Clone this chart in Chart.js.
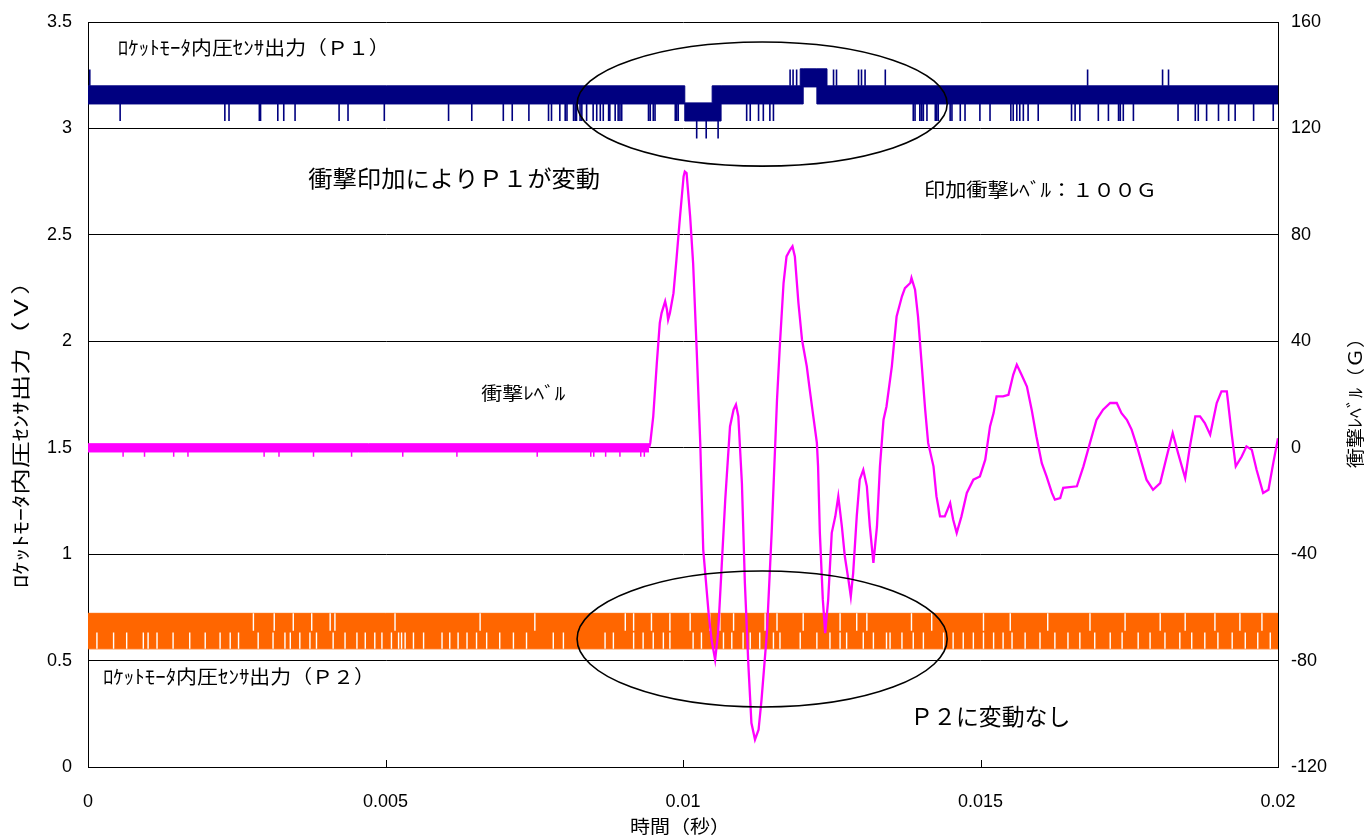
<!DOCTYPE html>
<html><head><meta charset="utf-8">
<script src="https://cdn.jsdelivr.net/npm/chart.js@4.4.1/dist/chart.umd.min.js"></script>
<style>html,body{margin:0;padding:0;background:#fff;}#wrap{width:1369px;height:839px;}</style>
</head><body><div id="wrap"><canvas id="c" width="1369" height="839"></canvas></div>
<script>
// ---------- axes ----------
const xTicks = [0, 0.005, 0.01, 0.015, 0.02];
const xTickLabels = ['0', '0.005', '0.01', '0.015', '0.02'];
const voltTickLabels = ['0', '0.5', '1', '1.5', '2', '2.5', '3', '3.5'];
const gTickLabels = ['-120', '-80', '-40', '0', '40', '80', '120', '160'];

// ---------- P1 (V) : dense band envelope (value holds from each time to the next) ----------
const p1BandTime  = [0, 0.01003, 0.01049, 0.01064, 0.01197, 0.01202, 0.01225, 0.01242, 0.02];
const p1BandUpper = [3.20, 3.12, 3.20, 3.20, 3.28, 3.28, 3.28, 3.20, 3.20];
const p1BandLower = [3.115, 3.035, 3.035, 3.115, 3.115, 3.195, 3.115, 3.115, 3.115];
// P1 isolated excursions
const p1DownSpikes = [0.00054, 0.00230, 0.00237, 0.00288, 0.00290, 0.00319, 0.00329, 0.00348, 0.00422, 0.00437,
  0.00498, 0.00606, 0.00645, 0.00698, 0.00713, 0.00741, 0.00774, 0.00779, 0.00793, 0.00802, 0.00805, 0.00816,
  0.00819, 0.00821, 0.00827, 0.00830, 0.00838, 0.00849, 0.00855, 0.00861, 0.00866, 0.00875, 0.00877, 0.00886,
  0.00891, 0.00894, 0.00897, 0.00942, 0.00945, 0.00950, 0.00953, 0.00987, 0.00989, 0.00992, 0.01107, 0.01113,
  0.01127, 0.01135, 0.01146, 0.01152, 0.01387, 0.01390, 0.01398, 0.01401, 0.01404, 0.01410, 0.01424, 0.01426,
  0.01429, 0.01449, 0.01452, 0.01466, 0.01474, 0.01499, 0.01516, 0.01551, 0.01555, 0.01561, 0.01566, 0.01572,
  0.01580, 0.01597, 0.01653, 0.01659, 0.01667, 0.01698, 0.01715, 0.01732, 0.01735, 0.01740, 0.01757, 0.01832,
  0.01861, 0.01866, 0.01880, 0.01900, 0.01917, 0.01928, 0.01959, 0.01992];
const p1UpSpikes = [0.00003, 0.01180, 0.01185, 0.01191, 0.01253, 0.01258, 0.01295, 0.01300, 0.01306, 0.01340,
  0.01680, 0.01806, 0.01816];
const p1DeepSpikes = [0.01023, 0.01039, 0.01059];
const p1Level = {up: 3.277, high: 3.20, low: 3.115, dip: 3.035, deep: 2.953};

// ---------- P2 (V) : dense band ----------
const p2Band = {upper: 0.722, mid: 0.640, lower: 0.555};
const p2GapsUpper = [0.00278, 0.00313, 0.00345, 0.00376, 0.00407, 0.00415, 0.00516, 0.00659, 0.00751, 0.00903,
  0.00917, 0.00947, 0.00978, 0.01012, 0.01045, 0.01062, 0.01085, 0.01138, 0.01158, 0.01202, 0.01264, 0.01292,
  0.01309, 0.01384, 0.01418, 0.01505, 0.01550, 0.01613, 0.01684, 0.01743, 0.01802, 0.01844, 0.01894, 0.01936,
  0.01973];
const p2GapsLower = [0.00015, 0.00043, 0.00065, 0.00093, 0.00101, 0.00116, 0.00143, 0.00171, 0.00197, 0.00222,
  0.00239, 0.00253, 0.00286, 0.00311, 0.00331, 0.00340, 0.00356, 0.00373, 0.00384, 0.00412, 0.00432, 0.00452,
  0.00466, 0.00482, 0.00494, 0.00510, 0.00522, 0.00527, 0.00533, 0.00547, 0.00564, 0.00595, 0.00608, 0.00622,
  0.00637, 0.00653, 0.00670, 0.00692, 0.00715, 0.00737, 0.00782, 0.00799, 0.00869, 0.00883, 0.00917, 0.00933,
  0.00950, 0.00967, 0.00978, 0.01017, 0.01031, 0.01068, 0.01082, 0.01101, 0.01113, 0.01129, 0.01152, 0.01163,
  0.01197, 0.01225, 0.01247, 0.01264, 0.01275, 0.01303, 0.01320, 0.01342, 0.01348, 0.01368, 0.01387, 0.01404,
  0.01438, 0.01454, 0.01471, 0.01488, 0.01505, 0.01522, 0.01538, 0.01553, 0.01575, 0.01600, 0.01625, 0.01647,
  0.01667, 0.01692, 0.01718, 0.01738, 0.01765, 0.01785, 0.01810, 0.01835, 0.01855, 0.01877, 0.01899, 0.01923,
  0.01945, 0.01966, 0.01987];

// ---------- Shock level (G) ----------
const shockBaseTime = [0, 0.00943];
const shockBaseUpper = [1.5, 1.5];
const shockBaseLower = [-1.6, -1.6];
const shockBaseDips = [0.00059, 0.00095, 0.00144, 0.00168, 0.00296, 0.00321, 0.00379, 0.00443, 0.00529, 0.00620,
  0.00755, 0.00845, 0.00850, 0.00870, 0.00894, 0.00929, 0.00935];
const shockDipLevel = -3.4;
const shockTime = [0.00943, 0.00945, 0.00950, 0.00956, 0.00961, 0.00964, 0.00970, 0.00973, 0.00975, 0.00978,
  0.00981, 0.00984, 0.00989, 0.00995, 0.01001, 0.01003, 0.01006, 0.01012, 0.01017, 0.01023, 0.01029, 0.01034,
  0.01043, 0.01048, 0.01054, 0.01059, 0.01065, 0.01071, 0.01079, 0.01085, 0.01089, 0.01093, 0.01099, 0.01104,
  0.01110, 0.01115, 0.01121, 0.01127, 0.01132, 0.01141, 0.01149, 0.01158, 0.01163, 0.01169, 0.01174, 0.01180,
  0.01184, 0.01188, 0.01194, 0.01200, 0.01203, 0.01208, 0.01213, 0.01219, 0.01225, 0.01227, 0.01230, 0.01235,
  0.01239, 0.01244, 0.01250, 0.01256, 0.01261, 0.01267, 0.01272, 0.01278, 0.01282, 0.01286, 0.01292, 0.01297,
  0.01303, 0.01309, 0.01314, 0.01320, 0.01326, 0.01331, 0.01337, 0.01342, 0.01351, 0.01359, 0.01368, 0.01373,
  0.01382, 0.01384, 0.01390, 0.01395, 0.01401, 0.01407, 0.01412, 0.01421, 0.01426, 0.01432, 0.01440, 0.01449,
  0.01454, 0.01460, 0.01468, 0.01477, 0.01488, 0.01499, 0.01508, 0.01516, 0.01522, 0.01527, 0.01538, 0.01547,
  0.01555, 0.01561, 0.01569, 0.01578, 0.01586, 0.01594, 0.01603, 0.01611, 0.01620, 0.01625, 0.01634, 0.01639,
  0.01662, 0.01673, 0.01684, 0.01695, 0.01706, 0.01718, 0.01729, 0.01737, 0.01746, 0.01754, 0.01763, 0.01771,
  0.01779, 0.01790, 0.01802, 0.01813, 0.01823, 0.01832, 0.01844, 0.01852, 0.01861, 0.01869, 0.01877, 0.01886,
  0.01897, 0.01905, 0.01914, 0.01922, 0.01929, 0.01939, 0.01947, 0.01956, 0.01964, 0.01975, 0.01984, 0.01992,
  0.02000];
const shockG = [0, 1.8, 11.8, 31.8, 46.9, 50.6, 55, 51.9, 48.1, 50.6,
  54.4, 58.1, 70.7, 86.9, 102, 103.8, 103.2, 86.9, 69.4, 36.8, 1.8, -38.3,
  -62.1, -72.2, -79.7, -69.7, -44.6, -19.5, 8, 14.3, 16.2, 11.8, -13.3, -50.9,
  -82.2, -103.5, -109.7, -106, -94.7, -69.7, -32, 18, 39.3, 61.9, 71.9, 74.4,
  75.7, 71.9, 54.4, 40.6, 36.8, 30.6, 21.8, 11.8, 1.8, -7, -32, -57.1,
  -69.7, -57.1, -32, -25.8, -18.3, -29.6, -40.9, -49.6, -55.9, -47.1, -25.8, -12,
  -8.3, -14.5, -29.6, -43.3, -29.6, -7, 10.5, 15.5, 30.6, 49.3, 56.9, 60,
  61.9, 63.8, 59.4, 49.3, 31.8, 14.3, 1.8, -7, -18.3, -25.8, -25.8, -20.8,
  -27, -32, -25.8, -17, -12, -10.8, -4.5, 8, 13, 19.3, 19.3, 19.9,
  27.4, 31.2, 27.4, 23, 14.3, 4.2, -5.8, -10.8, -17, -19.5, -18.9, -15.1,
  -14.5, -7, 1.8, 10.5, 14.3, 16.8, 16.8, 13, 10.5, 6.8, 0.5, -5.8,
  -12, -15.8, -13.3, -3.3, 5.5, -2, -11.4, 0.5, 11.8, 11.8, 9.3, 4.9,
  16.8, 21.2, 21.2, 5.5, -7, -3.3, 0.5, -0.8, -8.3, -17, -15.8, -5.8,
  3.6];

// ---------- annotations ----------
const ellipses = [
  {tMin: 0.00822, tMax: 0.01444, vMin: 2.823, vMax: 3.406},
  {tMin: 0.00822, tMax: 0.01444, vMin: 0.282, vMax: 0.921}
];
const notes = [
  {text: 'ﾛｹｯﾄﾓｰﾀ内圧ｾﾝｻ出力（Ｐ１）', t: 0.00050, v: 3.378, size: 19, width: 272},
  {text: '衝撃印加によりＰ１が変動', t: 0.00370, v: 2.767, size: 23, width: 292},
  {text: '印加衝撃ﾚﾍﾞﾙ：１００Ｇ', t: 0.01405, v: 2.711, size: 19, width: 233},
  {text: '衝撃ﾚﾍﾞﾙ', t: 0.00661, v: 1.757, size: 18, width: 84},
  {text: 'ﾛｹｯﾄﾓｰﾀ内圧ｾﾝｻ出力（Ｐ２）', t: 0.00025, v: 0.423, size: 19, width: 272},
  {text: 'Ｐ２に変動なし', t: 0.01382, v: 0.240, size: 23, width: 160}
];
const titles = {
  x: '時間（秒）',
  yLeft: 'ﾛｹｯﾄﾓｰﾀ内圧ｾﾝｻ出力（Ｖ）',
  yRight: '衝撃ﾚﾍﾞﾙ（Ｇ）'
};

// ---------- build data ----------
const pts = (ts, vs) => ts.map((t, i) => ({x: t, y: vs[i]}));
const spikes = (ts, base, tip) => ts.flatMap(t => [{x: t, y: base}, {x: t, y: tip}, {x: t, y: null}]);
const NAVY = '#000080', ORANGE = '#FF6600', MAGENTA = '#FF00FF';
const JP = '"Noto Sans CJK JP", "Noto Sans", sans-serif';

const datasets = [
  {data: pts(p1BandTime, p1BandUpper), yAxisID: 'y', stepped: 'before', borderColor: NAVY, borderWidth: 1, fill: false, order: 9},
  {data: pts(p1BandTime, p1BandLower), yAxisID: 'y', stepped: 'before', borderColor: NAVY, borderWidth: 1, fill: 0, backgroundColor: NAVY, order: 8},
  {data: spikes(p1DownSpikes, p1Level.low, p1Level.dip).concat(spikes(p1UpSpikes, p1Level.high, p1Level.up), spikes(p1DeepSpikes, p1Level.dip, p1Level.deep)),
   yAxisID: 'y', borderColor: NAVY, borderWidth: 1.6, spanGaps: false, order: 7},
  {data: pts([0, 0.02], [p2Band.upper, p2Band.upper]), yAxisID: 'y', borderColor: ORANGE, borderWidth: 1, fill: false, order: 6},
  {data: pts([0, 0.02], [p2Band.lower, p2Band.lower]), yAxisID: 'y', borderColor: ORANGE, borderWidth: 1, fill: 3, backgroundColor: ORANGE, order: 5},
  {data: spikes(p2GapsUpper, p2Band.upper, p2Band.mid).concat(spikes(p2GapsLower, p2Band.lower, p2Band.mid - 0.008)),
   yAxisID: 'y', borderColor: '#ffffff', borderWidth: 1.4, spanGaps: false, order: 4},
  {data: pts(shockBaseTime, shockBaseUpper), yAxisID: 'y2', borderColor: MAGENTA, borderWidth: 1, fill: false, order: 3},
  {data: pts(shockBaseTime, shockBaseLower), yAxisID: 'y2', borderColor: MAGENTA, borderWidth: 1, fill: 6, backgroundColor: MAGENTA, order: 2},
  {data: spikes(shockBaseDips, shockBaseLower[0], shockDipLevel), yAxisID: 'y2', borderColor: MAGENTA, borderWidth: 1.5, spanGaps: false, order: 1},
  {data: pts(shockTime, shockG), yAxisID: 'y2', borderColor: MAGENTA, borderWidth: 2.3, fill: false, order: 0}
];

function fitText(ctx, text, x, y, size, width, rot, align) {
  ctx.save();
  ctx.translate(x, y);
  if (rot) ctx.rotate(rot);
  ctx.font = size + 'px ' + JP;
  const w = ctx.measureText(text).width;
  ctx.scale(width / w, 1);
  ctx.textBaseline = 'middle';
  ctx.textAlign = align || 'left';
  ctx.fillStyle = '#000';
  ctx.fillText(text, 0, 0);
  ctx.restore();
}

const decor = {
  id: 'decor',
  afterDatasetsDraw(chart) {
    const {ctx, chartArea: a, scales: {x, y}} = chart;
    ctx.save();
    ctx.strokeStyle = '#000'; ctx.lineWidth = 1;
    xTicks.forEach(t => {
      const px = Math.round(x.getPixelForValue(t)) + 0.5;
      ctx.beginPath(); ctx.moveTo(px, a.bottom); ctx.lineTo(px, a.bottom - 7); ctx.stroke();
    });
    ctx.lineWidth = 1.6;
    ellipses.forEach(e => {
      const x0 = x.getPixelForValue(e.tMin), x1 = x.getPixelForValue(e.tMax);
      const y0 = y.getPixelForValue(e.vMax), y1 = y.getPixelForValue(e.vMin);
      ctx.beginPath();
      ctx.ellipse((x0 + x1) / 2, (y0 + y1) / 2, (x1 - x0) / 2, (y1 - y0) / 2, 0, 0, Math.PI * 2);
      ctx.stroke();
    });
    ctx.restore();
    notes.forEach(n => fitText(ctx, n.text, x.getPixelForValue(n.t), y.getPixelForValue(n.v), n.size, n.width, 0, 'left'));
  },
  afterDraw(chart) {
    const {ctx, chartArea: a} = chart;
    fitText(ctx, titles.x, (a.left + a.right) / 2 - 3, 826, 18, 100, 0, 'center');
    fitText(ctx, titles.yLeft, 21, 428, 19, 320, -Math.PI / 2, 'center');
    fitText(ctx, titles.yRight, 1355, 398, 18, 140, -Math.PI / 2, 'center');
  }
};

const tickFont = {family: '"Liberation Sans", Arial, sans-serif', size: 18};
const fitVertical = w => s => { s.width = w; s.paddingTop = 11; s.paddingBottom = 11; };

new Chart(document.getElementById('c'), {
  type: 'line',
  data: {datasets},
  options: {
    responsive: false,
    animation: false,
    layout: {padding: {top: 22, left: 0, right: 0, bottom: 0}},
    elements: {point: {radius: 0}, line: {tension: 0}},
    plugins: {legend: {display: false}, tooltip: {enabled: false}},
    scales: {
      x: {
        type: 'linear', position: 'bottom', min: 0, max: 0.02,
        afterBuildTicks: s => { s.ticks = xTicks.map(v => ({value: v})); },
        afterFit: s => { s.height = 72; },
        grid: {display: false},
        border: {display: true, color: '#000', width: 1},
        ticks: {font: tickFont, color: '#000', padding: 16, maxRotation: 0, autoSkip: false,
                callback: (v, i) => xTickLabels[i]}
      },
      y: {
        type: 'linear', position: 'left', min: 0, max: 3.5,
        ticks: {stepSize: 0.5, font: tickFont, color: '#000', padding: 16, callback: (v, i) => voltTickLabels[i]},
        afterFit: fitVertical(88),
        grid: {color: '#000', lineWidth: 1, drawTicks: false},
        border: {display: true, color: '#000', width: 1}
      },
      y2: {
        type: 'linear', position: 'right', min: -120, max: 160,
        ticks: {stepSize: 40, font: tickFont, color: '#000', padding: 13, callback: (v, i) => gTickLabels[i]},
        afterFit: fitVertical(91),
        grid: {display: false, drawTicks: false},
        border: {display: true, color: '#000', width: 1}
      }
    }
  },
  plugins: [decor]
});
</script>
</body></html>
